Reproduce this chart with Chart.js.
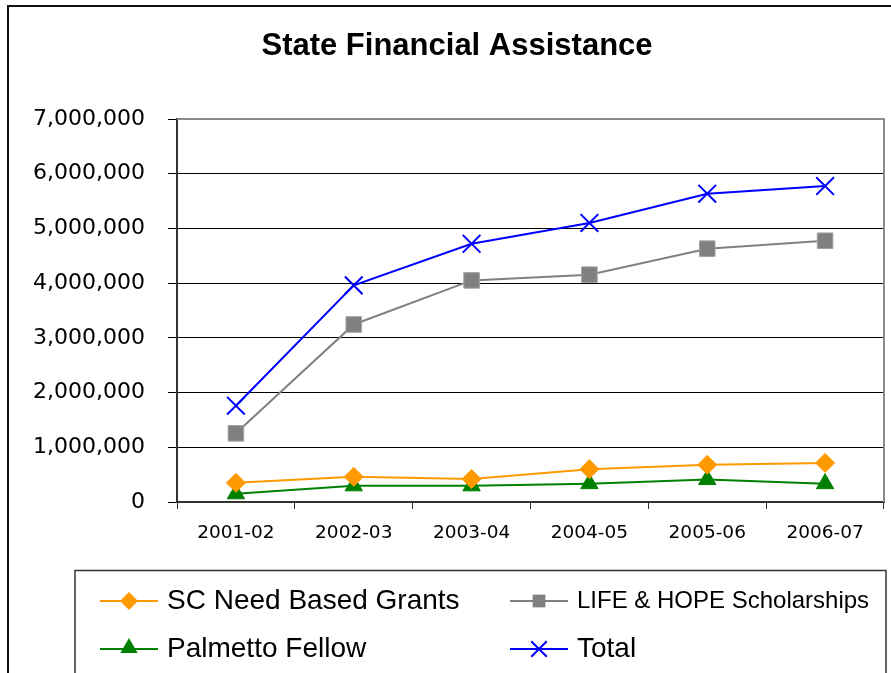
<!DOCTYPE html>
<html>
<head>
<meta charset="utf-8">
<script src="https://cdn.jsdelivr.net/npm/chart.js@4/dist/chart.umd.min.js"></script>
<style>
  html, body { margin: 0; padding: 0; background: #fff; }
  #wrap { position: relative; width: 891px; height: 673px; overflow: hidden; }
  canvas { display: block; }
</style>
</head>
<body>
<div id="wrap"><canvas id="chart" width="891" height="673"></canvas></div>
<script>
// Academic years on the category axis
const years = ['2001-02', '2002-03', '2003-04', '2004-05', '2005-06', '2006-07'];

// Dollars awarded per program
const needBasedGrants = [350000, 460000, 420000, 600000, 680000, 715000];
const lifeHopeScholarships = [1255000, 3245000, 4050000, 4155000, 4630000, 4775000];
const palmettoFellow = [150000, 295000, 295000, 335000, 410000, 335000];
const totalAssistance = [1760000, 3960000, 4720000, 5100000, 5635000, 5775000];

// Value axis range
const yMin = 0;
const yMax = 7000000;
const yStep = 1000000;

const chartTitle = 'State Financial Assistance';
const seriesLabels = ['SC Need Based Grants', 'LIFE & HOPE Scholarships', 'Palmetto Fellow', 'Total'];

function fmt(v) {
  return Number(v).toLocaleString('en-US');
}

// White page, dark outer frame and the heading
const pageFrame = {
  id: 'pageFrame',
  beforeDraw(chart) {
    const ctx = chart.ctx;
    ctx.save();
    ctx.fillStyle = '#fff';
    ctx.fillRect(0, 0, chart.width, chart.height);
    ctx.strokeStyle = '#111';
    ctx.lineWidth = 2;
    ctx.strokeRect(8, 6, chart.width + 20, chart.height + 20);
    ctx.fillStyle = '#000';
    ctx.font = 'bold 31px "Liberation Sans", Arial, sans-serif';
    ctx.textAlign = 'center';
    ctx.textBaseline = 'middle';
    ctx.fillText(chartTitle, 457, 46);
    ctx.restore();
  }
};

// Gray top and right edges of the plot area
const plotFrame = {
  id: 'plotFrame',
  beforeDatasetsDraw(chart) {
    const a = chart.chartArea;
    const ctx = chart.ctx;
    ctx.save();
    ctx.strokeStyle = '#8c8c8c';
    ctx.lineWidth = 2;
    ctx.beginPath();
    ctx.moveTo(a.left, a.top);
    ctx.lineTo(a.right, a.top);
    ctx.lineTo(a.right, a.bottom);
    ctx.stroke();
    ctx.restore();
  }
};

function drawMarker(ctx, style, x, y, r, color) {
  ctx.save();
  ctx.fillStyle = color;
  ctx.strokeStyle = color;
  ctx.beginPath();
  if (style === 'rectRot') {
    ctx.moveTo(x, y - r); ctx.lineTo(x + r, y); ctx.lineTo(x, y + r); ctx.lineTo(x - r, y);
    ctx.closePath(); ctx.fill();
  } else if (style === 'rect') {
    const s = r * Math.SQRT1_2;
    ctx.rect(x - s, y - s, 2 * s, 2 * s); ctx.fill();
  } else if (style === 'triangle') {
    ctx.moveTo(x, y - r);
    ctx.lineTo(x + r * 0.866, y + r * 0.5);
    ctx.lineTo(x - r * 0.866, y + r * 0.5);
    ctx.closePath(); ctx.fill();
  } else if (style === 'crossRot') {
    const s = r * Math.SQRT1_2;
    ctx.lineWidth = 2;
    ctx.moveTo(x - s, y - s); ctx.lineTo(x + s, y + s);
    ctx.moveTo(x - s, y + s); ctx.lineTo(x + s, y - s);
    ctx.stroke();
  }
  ctx.restore();
}

// Boxed two-column legend under the plot
const boxLegend = {
  id: 'boxLegend',
  afterDraw(chart) {
    const ctx = chart.ctx;
    ctx.save();
    ctx.strokeStyle = '#333';
    ctx.lineWidth = 1.5;
    ctx.strokeRect(75, 570.5, 811, 140);
    const cols = [100, 510];
    const rows = [601, 649];
    const sizes = [28, 24, 28, 28];
    chart.data.datasets.forEach((ds, i) => {
      const x = cols[i % 2];
      const y = rows[Math.floor(i / 2)];
      ctx.strokeStyle = ds.borderColor;
      ctx.lineWidth = 2;
      ctx.beginPath();
      ctx.moveTo(x, y);
      ctx.lineTo(x + 58, y);
      ctx.stroke();
      drawMarker(ctx, ds.pointStyle, x + 29, y - (ds.pointStyle === 'triangle' ? 1 : 0), ds.legendRadius, ds.borderColor);
      ctx.fillStyle = '#000';
      ctx.font = sizes[i] + 'px "Liberation Sans", Arial, sans-serif';
      ctx.textBaseline = 'middle';
      ctx.textAlign = 'left';
      ctx.fillText(ds.label, x + 67, y);
    });
    ctx.restore();
  }
};

new Chart(document.getElementById('chart'), {
  type: 'line',
  data: {
    labels: years,
    datasets: [
      {
        label: seriesLabels[0], data: needBasedGrants,
        borderColor: '#ff9900', backgroundColor: '#ff9900', borderWidth: 2,
        pointStyle: 'rectRot', pointRadius: 9.5, pointBorderWidth: 1, legendRadius: 9
      },
      {
        label: seriesLabels[1], data: lifeHopeScholarships,
        borderColor: '#808080', backgroundColor: '#808080', borderWidth: 2,
        pointStyle: 'rect', pointRadius: 11, pointBorderWidth: 1, pointBorderColor: '#a0a0a0', legendRadius: 9
      },
      {
        label: seriesLabels[2], data: palmettoFellow,
        borderColor: '#008000', backgroundColor: '#008000', borderWidth: 2,
        pointStyle: 'triangle', pointRadius: 10, pointBorderWidth: 1, legendRadius: 10
      },
      {
        label: seriesLabels[3], data: totalAssistance,
        borderColor: '#0000ff', backgroundColor: '#0000ff', borderWidth: 2,
        pointStyle: 'crossRot', pointRadius: 12.5, pointBorderWidth: 2, legendRadius: 11
      }
    ]
  },
  options: {
    responsive: false,
    animation: false,
    devicePixelRatio: 1,
    layout: { autoPadding: false, padding: { left: 0, right: 7, top: 119, bottom: 121 } },
    elements: { line: { tension: 0 } },
    plugins: {
      legend: { display: false },
      tooltip: { enabled: false },
      title: { display: false }
    },
    scales: {
      x: {
        offset: true,
        grid: { display: true, drawOnChartArea: false, offset: true, tickLength: 7, color: '#333', lineWidth: 1 },
        border: { display: true, color: '#333', width: 2 },
        ticks: { color: '#000', padding: 13, font: { family: '"DejaVu Sans", Verdana, sans-serif', size: 18.5 } },
        afterFit(scale) {
          scale.height = 50;
          scale.paddingLeft = 0;
          scale.paddingRight = 0;
        }
      },
      y: {
        min: yMin, max: yMax,
        grid: { color: '#000', lineWidth: 1, tickLength: 9 },
        border: { display: true, color: '#333', width: 2 },
        ticks: {
          stepSize: yStep, color: '#000', padding: 23,
          font: { family: '"DejaVu Sans", Verdana, sans-serif', size: 22 },
          callback: (v) => fmt(v)
        },
        afterFit(scale) {
          scale.width = 177;
          scale.paddingTop = 0;
          scale.paddingBottom = 0;
        }
      }
    }
  },
  plugins: [pageFrame, plotFrame, boxLegend]
});
</script>
</body>
</html>
